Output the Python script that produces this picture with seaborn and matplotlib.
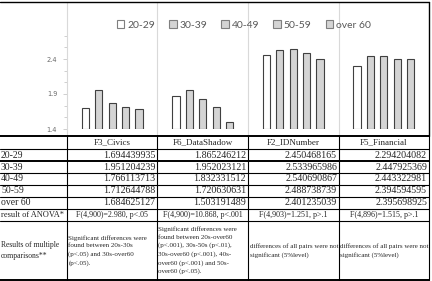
# %% Imports
import numpy as np
import pandas as pd
import matplotlib
matplotlib.use("Agg")
import matplotlib.pyplot as plt
from matplotlib.lines import Line2D
from matplotlib.ticker import AutoMinorLocator
import seaborn as sns

# %% Data
factors = ["F3_Civics", "F6_DataShadow", "F2_IDNumber", "F5_Financial"]
ages = ["20-29", "30-39", "40-49", "50-59", "over 60"]
age_20 = [1.694439935, 1.865246212, 2.450468165, 2.294204082]
age_30 = [1.951204239, 1.952023121, 2.533965986, 2.447925369]
age_40 = [1.766113713, 1.832331512, 2.540690867, 2.443322981]
age_50 = [1.712644788, 1.720630631, 2.488738739, 2.394594595]
age_60 = [1.684625127, 1.503191489, 2.401235039, 2.395698925]
anova = ["F(4,900)=2.980, p<.05", "F(4,900)=10.868, p<.001",
         "F(4,903)=1.251, p>.1", "F(4,896)=1.515, p>.1"]
comparisons = [
    "Significant differences were\nfound between 20s-30s\n(p<.05) and 30s-over60\n(p<.05).",
    "Significant differences were\nfound between 20s-over60\n(p<.001), 30s-50s (p<.01),\n30s-over60 (p<.001), 40s-\nover60 (p<.001) and 50s-\nover60 (p<.05).",
    "differences of all pairs were not\nsignificant (5%level)",
    "differences of all pairs were not\nsignificant (5%level)",
]

series = [age_20, age_30, age_40, age_50, age_60]
df = pd.DataFrame({
    "factor": np.tile(factors, len(ages)),
    "age": np.repeat(ages, len(factors)),
    "mean": np.concatenate(series),
})

# %% Layout helpers (pixel coords of a 432x281 canvas)
W, H = 432, 281
fx = lambda x: x / W
fy = lambda y: 1 - y / H
col_x = [0, 67, 157, 248, 339, 429]
row_y = [136, 149, 161, 173, 184.5, 196.5, 208.5, 221, 280]
y_lo, y_hi = 1.4, 2.75
px_per_unit = 70

sns.set_theme(style="white")
fig = plt.figure(figsize=(W / 100, H / 100), dpi=100)
ax_h = (y_hi - y_lo) * px_per_unit
ax = fig.add_axes([fx(67), fy(129), (429 - 67) / W, ax_h / H])

palette = ["white", "#d4d4d4", "#d4d4d4", "#d4d4d4", "#d4d4d4"]
sns.barplot(data=df, x="factor", y="mean", hue="age", order=factors,
            hue_order=ages, palette=palette, width=0.74, gap=0.47,
            edgecolor="#404040", linewidth=0.8, ax=ax)

# bars start at the axis floor like in Excel
for p in ax.patches:
    if p.get_height() > 0:
        top = p.get_y() + p.get_height()
        p.set_y(y_lo)
        p.set_height(top - y_lo)

ax.set_ylim(y_lo, y_hi)
ax.set_xlim(-0.5, 3.5)
ax.set_yticks([1.4, 1.9, 2.4])
ax.set_yticklabels(["1.4", "1.9", "2.4"])
ax.yaxis.set_minor_locator(AutoMinorLocator(3))
ax.tick_params(axis="y", which="both", left=True, color="#c8c8c8", width=0.6,
               labelcolor="#6a6a6a", labelsize=4.8, pad=4)
ax.tick_params(axis="y", which="major", length=3)
ax.tick_params(axis="y", which="minor", length=2)
ax.tick_params(axis="x", bottom=False, labelbottom=False)
ax.set_xlabel("")
ax.set_ylabel("")
ax.patch.set_alpha(0)
for s in ax.spines.values():
    s.set_visible(False)

# legend at top
handles, labels = ax.get_legend_handles_labels()
ax.legend_.remove()
for h in handles:
    h.set_edgecolor("#7f7f7f")
fig.legend(handles, labels, loc="center", bbox_to_anchor=(fx(244), fy(25)),
           ncol=5, frameon=False, handlelength=0.7, handleheight=0.7,
           handletextpad=0.3, columnspacing=1.35,
           prop={"family": "Lato", "size": 7.5}, labelcolor="#595959")

# chart frame and category separators
for x in col_x[1:5]:
    fig.add_artist(Line2D([fx(x)] * 2, [fy(2), fy(136)], color="#d9d9d9", lw=0.8))
fig.add_artist(Line2D([fx(0), fx(429)], [fy(2)] * 2, color="black", lw=1))
fig.add_artist(Line2D([fx(429)] * 2, [fy(2), fy(136)], color="black", lw=1))

# %% Data table below
for i, y in enumerate(row_y):
    lw = 1.4 if i in (0, 2, 8) else 0.8
    fig.add_artist(Line2D([fx(0), fx(429)], [fy(y)] * 2, color="black", lw=lw))
for x in col_x[1:]:
    fig.add_artist(Line2D([fx(x)] * 2, [fy(136), fy(280)], color="black", lw=0.8))

serif = "Liberation Serif"
mid = lambda r: fy((row_y[r] + row_y[r + 1]) / 2)

for j, name in enumerate(factors):
    fig.text(fx((col_x[j + 1] + col_x[j + 2]) / 2), mid(0), name, ha="center",
             va="center", family=serif, fontsize=6.5)
for i, (age, vals) in enumerate(zip(ages, series)):
    fig.text(fx(1), mid(i + 1), age, ha="left", va="center", family=serif, fontsize=7)
    for j, v in enumerate(vals):
        fig.text(fx(col_x[j + 2] - 2), mid(i + 1), f"{v:.9f}", ha="right",
                 va="center", family=serif, fontsize=7.2)

fig.text(fx(1), mid(6), "result of ANOVA*", ha="left", va="center",
         family=serif, fontsize=6)
for j, a in enumerate(anova):
    fig.text(fx((col_x[j + 1] + col_x[j + 2]) / 2), mid(6), a, ha="center",
             va="center", family=serif, fontsize=5.8)

fig.text(fx(1), mid(7), "Results of multiple\ncomparisons**", ha="left",
         va="center", family=serif, fontsize=5.5, linespacing=1.6)
for j, c in enumerate(comparisons):
    fig.text(fx(col_x[j + 1] + 1.5), mid(7), c, ha="left", va="center",
             family=serif, fontsize=5, linespacing=1.65)

fig.savefig("out.png", dpi=100)
